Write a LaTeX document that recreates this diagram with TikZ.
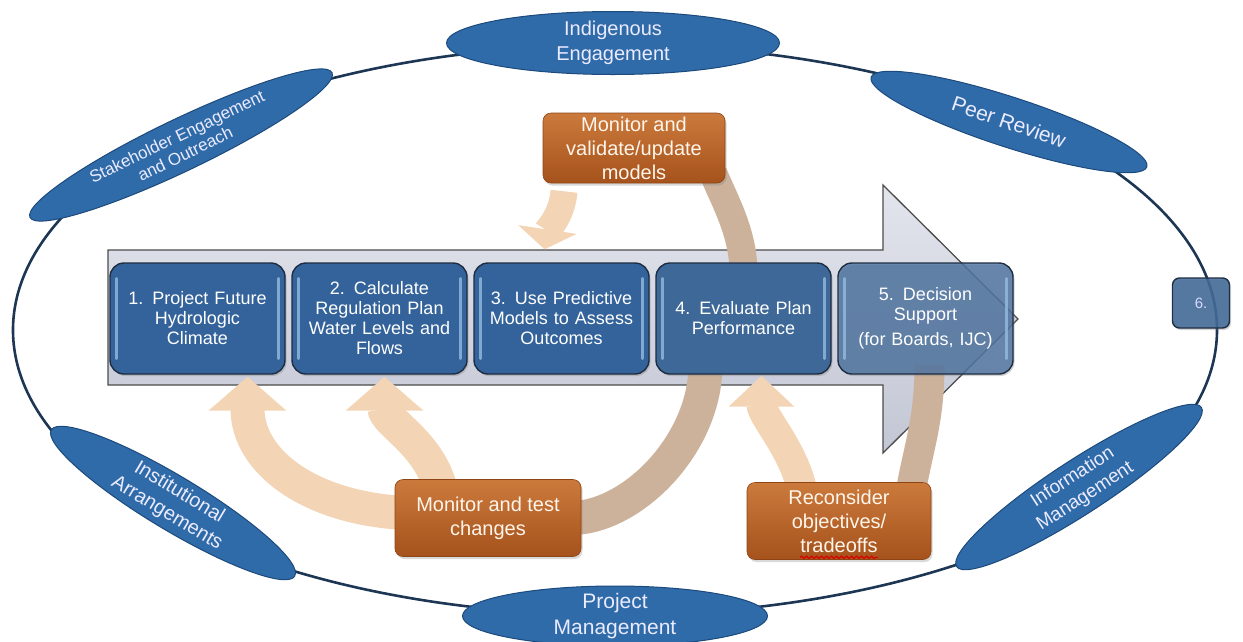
\documentclass[tikz,border=0pt]{standalone}
\usepackage{fontspec}
\setmainfont{Liberation Sans}
\usepackage{tikz}
\usetikzlibrary{shapes,arrows,arrows.meta,shadows,backgrounds,decorations.pathmorphing}
\definecolor{stageblue}{HTML}{33639A}
\definecolor{stagemid}{HTML}{3E6897}
\definecolor{stagepale}{HTML}{4C72A0}
\definecolor{stageedge}{HTML}{1E2D42}
\definecolor{glintblue}{HTML}{94BBE0}
\definecolor{themeblue}{HTML}{2F6BA8}
\definecolor{themeedge}{HTML}{1D4A7C}
\definecolor{ringblue}{HTML}{1C3654}
\definecolor{rustdark}{HTML}{A6521C}
\definecolor{rustlight}{HTML}{CB7A3C}
\definecolor{rustedge}{HTML}{8E4516}
\definecolor{peach}{HTML}{F3D5B6}
\definecolor{taupe}{HTML}{CDB29B}
\definecolor{arrowgrey}{HTML}{C3C6D4}
\definecolor{arrowtop}{HTML}{E3E5ED}
\tikzstyle{stage} = [rectangle, draw=stageedge, line width=1.4pt, fill=stageblue,
    text=white, text width=168pt, align=center, rounded corners=14pt,
    minimum width=175pt, minimum height=111pt, inner sep=0pt,
    font=\fontsize{18}{20}\selectfont,
    drop shadow={opacity=0.35, shadow xshift=1.5pt, shadow yshift=-2pt}]
\tikzstyle{check} = [rectangle, draw=rustedge, line width=0.6pt, top color=rustlight,
    bottom color=rustdark, text=white!92!orange, align=center, rounded corners=8pt,
    inner sep=0pt, font=\fontsize{20}{24}\selectfont,
    drop shadow={opacity=0.3, shadow xshift=1.5pt, shadow yshift=-2.5pt}]
\tikzstyle{theme} = [ellipse, draw=themeedge, line width=1pt, fill=themeblue, inner sep=0pt]
\tikzstyle{themetext} = [text=white!92!blue, align=center, font=\fontsize{20}{25}\selectfont]
\tikzstyle{ring} = [ellipse, draw=ringblue, line width=2.6pt, inner sep=0pt]
\tikzstyle{bigarrow} = [draw=black!70, line width=1.3pt, top color=arrowtop, bottom color=arrowgrey]
\tikzstyle{glint} = [draw=glintblue, line width=2.5pt, line cap=round, opacity=0.8]
\tikzstyle{feed} = [draw=peach, line width=34pt, -{Triangle[width=76pt,length=34pt]}]
\tikzstyle{backband} = [draw=taupe, line width=32pt]

\begin{document}
\begin{tikzpicture}[x=1pt, y=-1pt, node distance=182pt, auto]
    \useasboundingbox (0,0) rectangle (1243,641);

    % Place nodes
    % Stages
    \node [stage] (p1) at (197.5,318.5) {1. Project Future\\Hydrologic\\Climate};
    \node [stage, right of=p1] (p2) {2. Calculate\\Regulation Plan\\Water Levels and\\Flows};
    \node [stage, right of=p2] (p3) {3. Use Predictive\\Models to Assess\\Outcomes};
    \node [stage, right of=p3, fill=stagemid] (p4) {4. Evaluate Plan\\Performance};
    \node [stage, right of=p4, fill=stagepale, fill opacity=0.8, text opacity=1] (p5) {5. Decision\\Support\\[5pt](for Boards, IJC)};
    \node [stage, minimum width=57pt, minimum height=50pt, text width=50pt, rounded corners=7pt,
        fill=stagemid, fill opacity=0.85, text opacity=1, text=white!85!blue,
        font=\fontsize{15}{17}\selectfont] (p6) at (1201,303) {6.};
    \foreach \b in {p1,p2,p3,p4,p5} {
        \draw [glint] ([xshift=7pt,yshift=-16pt]\b.north west) -- ([xshift=7pt,yshift=16pt]\b.south west);
        \draw [glint] ([xshift=-7pt,yshift=-16pt]\b.north east) -- ([xshift=-7pt,yshift=16pt]\b.south east);
    }

    % Checks
    \node [check, minimum width=182pt, minimum height=70pt] (mv) at (634,148) {Monitor and\\validate/update\\models};
    \node [check, minimum width=186pt, minimum height=77pt] (mt) at (488,518) {Monitor and test\\changes};
    \node [check, minimum width=184pt, minimum height=77pt] (rc) at (839,521) {Reconsider\\objectives/\\tradeoffs};
    \draw [red!85!black, line width=1.1pt, decorate, decoration={snake, amplitude=1.2pt, segment length=5pt}]
        ([xshift=-39pt,yshift=2.5pt]rc.south) -- ([xshift=39pt,yshift=2.5pt]rc.south);

    % Themes
    \node [theme, minimum width=333pt, minimum height=63pt,
        label={[themetext]center:{Indigenous\\Engagement}}] (ie) at (613,43) {};
    \node [theme, rotate=25.6, minimum width=335pt, minimum height=52pt,
        label={[themetext, rotate=25.6, font=\fontsize{17}{19}\selectfont]center:{Stakeholder Engagement\\and Outreach}}] (se) at (181,145) {};
    \node [theme, rotate=-18, minimum width=290pt, minimum height=50pt,
        label={[themetext, rotate=-19, font=\fontsize{21}{25}\selectfont]center:{Peer Review}}] (pr) at (1009,122) {};
    \node [theme, rotate=-31, minimum width=284pt, minimum height=54pt,
        label={[themetext, rotate=-31, font=\fontsize{20}{24}\selectfont]center:{Institutional\\Arrangements}}] (ia) at (173,503) {};
    \node [theme, minimum width=305pt, minimum height=60pt,
        label={[themetext, font=\fontsize{21}{26}\selectfont]center:{Project\\Management}}] (pm) at (615,616) {};
    \node [theme, rotate=33, minimum width=292pt, minimum height=54pt,
        label={[themetext, rotate=33, font=\fontsize{19}{23}\selectfont]center:{Information\\Management}}] (im) at (1079,487) {};

    \begin{scope}[on background layer]
        \node [ring, minimum width=1204pt, minimum height=570pt] (ring) at (615,330) {};
        \path [bigarrow] (108,250) -- (883,250) -- (883,185) -- (1018,319) -- (883,453)
            -- (883,385) -- (108,385) -- cycle;

        % Draw edges
        % Loops back to the stages
        \draw [feed, line width=27pt, -{Triangle[width=58pt,length=20pt]}]
            ([xshift=-70pt,yshift=-8pt]mv.south) .. controls +(-2,25) and +(3,-20) .. ([xshift=-17pt,yshift=13pt]p3.north);
        \draw [backband, line width=28pt]
            ([yshift=-10pt]p4.north) .. controls +(0,-40) and +(10,25) .. ([xshift=-12pt,yshift=10pt]mv.south east);
        \draw [feed]
            ([xshift=10pt,yshift=5pt]mt.west) .. controls +(-95,-5) and +(0,85) .. ([xshift=50pt,yshift=-2pt]p1.south);
        \draw [feed]
            ([xshift=-48pt,yshift=-8pt]mt.north) .. controls +(-12,-45) and +(0,45) .. ([xshift=5pt,yshift=-2pt]p2.south);
        \draw [backband, line width=34pt]
            ([xshift=-38pt,yshift=10pt]p4.south) .. controls +(0,80) and +(60,0) .. ([xshift=-10pt]mt.east);
        \draw [feed, line width=30pt, -{Triangle[width=64pt,length=31pt]}]
            ([xshift=-37pt,yshift=-8pt]rc.north) .. controls +(-8,-40) and +(0,40) .. ([xshift=18pt,yshift=-1pt]p4.south);
        \draw [backband, line width=30pt]
            ([xshift=4pt,yshift=10pt]p5.south) .. controls +(0,55) and +(8,-45) .. ([xshift=72pt,yshift=-8pt]rc.north);
    \end{scope}

\end{tikzpicture}
\end{document}
